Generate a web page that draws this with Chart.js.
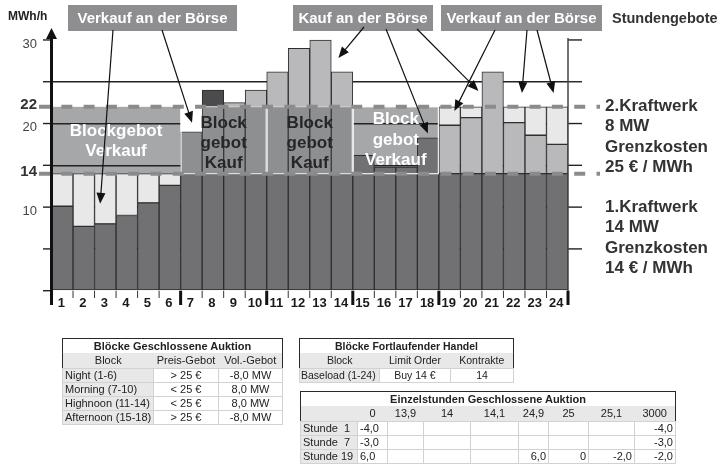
<!DOCTYPE html>
<html><head><meta charset="utf-8">
<script src="https://cdn.jsdelivr.net/npm/chart.js@4.4.1/dist/chart.umd.min.js"></script>
<style>
html,body{margin:0;padding:0;background:#fff;}
#wrap{position:relative;width:720px;height:465px;overflow:hidden;font-family:"Liberation Sans",Arial,sans-serif;}
canvas{position:absolute;left:0;top:0;}
table{position:absolute;border-collapse:collapse;table-layout:fixed;font-size:11px;color:#222;border:1.5px solid #2a2a2a;font-family:"Liberation Sans",Arial,sans-serif;}
td{padding:0 2px;height:13px;line-height:13px;white-space:pre;overflow:visible;border:1px solid #d2d2d2;background:#fff;}
tr.t td{font-weight:bold;text-align:center;border:none;height:14px;}
tr.h td{background:#e8e8e8;text-align:center;border:none;height:15px;}
td.l{background:#e8e8e8;text-align:left;}
td.c{text-align:center;}
td.r{text-align:right;}
td.ll{text-align:left;}
table.small{font-size:10.5px;}
table.small td{padding:0 1px;}
</style></head>
<body><div id="wrap"><canvas id="c" width="720" height="465"></canvas></div>
<script>
// ---------- data ----------
const hours = ['1','2','3','4','5','6','7','8','9','10','11','12','13','14','15','16','17','18','19','20','21','22','23','24'];
// dark base (Kraftwerk 1 / Last up to 14)
const grundlast = [10.1,7.7,8.0,9.0,10.5,12.6, 14,14,14,14, 14,14,14,14, 16.2,14.8,14.8,18.3, 14,14,14,14,14,14];
// block purchase 14..22
const blockKauf = [null,null,null,null,null,null, 5,8,8,8, 8,8,8,8, null,null,null,null, null,null,null,null,null,null];
// dark top in hour 8
const kaufSpitze = [null,null,null,null,null,null, null,2,null,null, null,null,null,null, null,null,null,null, null,null,null,null,null,null];
// hourly purchase (mid grey)
const stundenKauf = [null,null,null,null,null,null, null,null,0.5,2, 4.2,7.0,8.0,4.2, null,null,null,null, 5.8,6.7,12.2,6.1,4.6,3.5];
// hourly sale (light grey)
const stundenVerkauf = [3.9,6.3,6.0,5.0,3.5,1.4, 3.0,null,null,null, null,null,null,null, null,null,null,null, 2.2,1.3,null,1.9,3.4,4.5];

const yTickLabels = [10,20,30];
const kraftwerkLevels = [14,22];
const blockBoxes = [ // [firstHour, lastHour, from, to, type, lines]
  [1,6,14,22,'verkauf',['Blockgebot','Verkauf']],
  [7,10,14,22,'kauf',['Block','gebot','Kauf']],
  [11,14,14,22,'kauf',['Block','gebot','Kauf']],
  [15,18,14,22,'verkauf',['Block','gebot','Verkauf']]
];
const topBoxes = [[68,'Verkauf an der Börse',169],[293,'Kauf an der Börse',140],[441,'Verkauf an der Börse',161]];
// arrows: start px (x,y), tip in (bar position from left edge, value)
const arrows = [
  [113,30,2.26,10.4],[162,30,6.53,20.1],
  [364,27,13.33,27.85],[386,29,17.49,18.8],[417,29,19.84,23.9],
  [495,30,18.72,21.5],[527,30,21.86,23.65],[537,30,23.33,23.65]
];
const rightText1 = ['2.Kraftwerk','8 MW','Grenzkosten','25 € / MWh'];
const rightText2 = ['1.Kraftwerk','14 MW','Grenzkosten','14 € / MWh'];

// tables
const t1Titel = 'Blöcke Geschlossene Auktion';
const t1Kopf = ['Block','Preis-Gebot','Vol.-Gebot'];
const t1Zeilen = [['Night (1-6)','> 25 €','-8,0 MW'],['Morning (7-10)','< 25 €','8,0 MW'],['Highnoon (11-14)','< 25 €','8,0 MW'],['Afternoon (15-18)','> 25 €','-8,0 MW']];
const t2Titel = 'Blöcke Fortlaufender Handel';
const t2Kopf = ['Block','Limit Order','Kontrakte'];
const t2Zeilen = [['Baseload (1-24)','Buy 14 €','14']];
const t3Titel = 'Einzelstunden Geschlossene Auktion';
const t3Kopf = ['','0','13,9','14','14,1','24,9','25','25,1','3000'];
const t3Zeilen = [
  ['Stunde  1','-4,0','','','','','','','-4,0'],
  ['Stunde  7','-3,0','','','','','','','-3,0'],
  ['Stunde 19','6,0','','','','6,0','0','-2,0','-2,0']
];

// ---------- tables ----------
function esc(s){return s.replace(/&/g,'&amp;').replace(/</g,'&lt;').replace(/>/g,'&gt;');}
function makeTable(left,top,widths,titel,kopf,zeilen,aligns,cls){
  const t=document.createElement('table');
  if(cls) t.className=cls;
  t.style.left=left+'px';t.style.top=top+'px';
  t.style.width=widths.reduce((a,b)=>a+b,0)+'px';
  let h='<colgroup>'+widths.map(w=>'<col style="width:'+w+'px">').join('')+'</colgroup>';
  h+='<tr class="t"><td colspan="'+widths.length+'">'+esc(titel)+'</td></tr>';
  h+='<tr class="h">'+kopf.map(k=>'<td>'+esc(k)+'</td>').join('')+'</tr>';
  zeilen.forEach(z=>{h+='<tr>'+z.map((v,i)=>'<td class="'+(i===0?'l':aligns[i])+'">'+esc(v)+'</td>').join('')+'</tr>';});
  t.innerHTML=h;
  document.getElementById('wrap').appendChild(t);
}
makeTable(62,338,[91,65,64],t1Titel,t1Kopf,t1Zeilen,['l','c','c']);
makeTable(299,338,[80,71,63],t2Titel,t2Kopf,t2Zeilen,['l','c','c'],'small');
makeTable(300,391,[57,30,36,47,48,30,40,46,41],t3Titel,t3Kopf,t3Zeilen,['l','ll','r','r','r','r','r','r','r']);

// ---------- chart ----------
const FONT = '"Liberation Sans", Arial, sans-serif';
function geom(chart){
  const xs=chart.scales.x, ys=chart.scales.y;
  const w = xs.getPixelForValue(1)-xs.getPixelForValue(0);
  const left = xs.getPixelForValue(0)-w/2;
  return {xs,ys,w,left};
}
function arrow(ctx,x1,y1,x2,y2){
  const a=Math.atan2(y2-y1,x2-x1), L=11, H=4.5;
  ctx.beginPath();ctx.moveTo(x1,y1);ctx.lineTo(x2-Math.cos(a)*L*0.8,y2-Math.sin(a)*L*0.8);ctx.stroke();
  ctx.beginPath();ctx.moveTo(x2,y2);
  ctx.lineTo(x2-Math.cos(a)*L+Math.sin(a)*H, y2-Math.sin(a)*L-Math.cos(a)*H);
  ctx.lineTo(x2-Math.cos(a)*L-Math.sin(a)*H, y2-Math.sin(a)*L+Math.cos(a)*H);
  ctx.closePath();ctx.fill();
}
const deco = {
  id:'deco',
  beforeDraw(chart){
    const ctx=chart.ctx; const g=geom(chart);
    ctx.save();
    blockBoxes.forEach(b=>{
      if(b[4]!=='verkauf') return;
      const x1=g.left+(b[0]-1)*g.w, x2=g.left+b[1]*g.w;
      const y1=g.ys.getPixelForValue(b[3]), y2=g.ys.getPixelForValue(b[2]);
      ctx.fillStyle='#a6a7a9';ctx.fillRect(x1,y1,x2-x1,y2-y1);
    });
    ctx.restore();
  },
  afterDatasetsDraw(chart){
    const ctx=chart.ctx; const g=geom(chart);
    ctx.save();
    blockBoxes.forEach(b=>{
      const x1=g.left+(b[0]-1)*g.w, x2=g.left+b[1]*g.w;
      const y1=g.ys.getPixelForValue(b[3]), y2=g.ys.getPixelForValue(b[2]);
      ctx.strokeStyle='rgba(255,255,255,0.9)';ctx.lineWidth=1.2;
      if(b[0]!==1) ctx.strokeRect(x1+0.5,y1,x2-x1-1,y2-y1);
      const cx=(x1+x2)/2;
      ctx.font='bold 17px '+FONT;ctx.textAlign='center';ctx.textBaseline='middle';
      ctx.fillStyle=b[4]==='kauf'?'#262626':'#ffffff';
      let ys;
      if(b[5].length===2) ys=[131,151];
      else if(b[4]==='kauf') ys=[123,143,163];
      else ys=[119,140,160];
      b[5].forEach((t,i)=>ctx.fillText(t,cx,ys[i]));
    });
    ctx.restore();
  },
  afterDraw(chart){
    const ctx=chart.ctx; const g=geom(chart); const ys=g.ys, xs=g.xs;
    const L=g.left, R=g.left+24*g.w, B=ys.getPixelForValue(0);
    ctx.save();
    // dashed Kraftwerk lines
    ctx.strokeStyle='#8b8b8d';ctx.lineWidth=4;ctx.setLineDash([11,11.3]);
    kraftwerkLevels.forEach(v=>{const y=ys.getPixelForValue(v);ctx.beginPath();ctx.moveTo(39,y);ctx.lineTo(600,y);ctx.stroke();});
    ctx.setLineDash([]);
    // tick marks outside plot (left / right)
    ctx.strokeStyle='#222';ctx.lineWidth=1.4;
    for(let v=0;v<=30;v+=5){
      const y=ys.getPixelForValue(v);
      ctx.beginPath();ctx.moveTo(43,y);ctx.lineTo(L,y);ctx.stroke();
      if(v>0){ctx.beginPath();ctx.moveTo(R,y);ctx.lineTo(582,y);ctx.stroke();}
    }
    // right border line
    ctx.lineWidth=1.5;ctx.strokeStyle='#444';
    ctx.beginPath();ctx.moveTo(R,ys.getPixelForValue(30)-2);ctx.lineTo(R,B);ctx.stroke();
    // y axis with arrow
    ctx.strokeStyle='#111';ctx.fillStyle='#111';ctx.lineWidth=3;
    ctx.beginPath();ctx.moveTo(L,B+1);ctx.lineTo(L,36);ctx.stroke();
    ctx.beginPath();ctx.moveTo(L,28);ctx.lineTo(L-5.5,39);ctx.lineTo(L+5.5,39);ctx.closePath();ctx.fill();
    // x boundary ticks
    for(let i=0;i<=24;i++){
      const x=L+i*g.w; const thick=[0,6,10,14,18,24].includes(i);
      ctx.lineWidth=thick?3:1;ctx.strokeStyle=thick?'#111':'#333';
      ctx.beginPath();ctx.moveTo(x,B);ctx.lineTo(x,thick?305:298);ctx.stroke();
    }
    // x labels
    ctx.font='bold 13px '+FONT;ctx.fillStyle='#1a1a1a';ctx.textAlign='center';ctx.textBaseline='middle';
    hours.forEach((h,i)=>ctx.fillText(h,xs.getPixelForValue(i)-1,303));
    // y labels
    ctx.font='13px '+FONT;ctx.fillStyle='#444';ctx.textAlign='right';
    yTickLabels.forEach(v=>ctx.fillText(String(v),37,ys.getPixelForValue(v)+4));
    ctx.font='bold 15px '+FONT;ctx.fillStyle='#333';
    kraftwerkLevels.forEach(v=>ctx.fillText(String(v),37,ys.getPixelForValue(v)-2));
    ctx.font='bold 12px '+FONT;ctx.fillStyle='#222';ctx.textAlign='left';
    ctx.fillText('MWh/h',8,17);
    // top annotation boxes
    topBoxes.forEach(b=>{
      ctx.fillStyle='#8e8e90';ctx.fillRect(b[0],5,b[2],26);
      ctx.fillStyle='#fff';ctx.font='bold 15px '+FONT;ctx.textAlign='center';
      ctx.fillText(b[1],b[0]+b[2]/2,18.5);
    });
    ctx.fillStyle='#333';ctx.font='bold 14.5px '+FONT;ctx.textAlign='left';
    ctx.fillText('Stundengebote',612,18.5);
    // right texts
    ctx.font='bold 17px '+FONT;ctx.fillStyle='#333';
    rightText1.forEach((t,i)=>ctx.fillText(t,605,106+i*20.5));
    rightText2.forEach((t,i)=>ctx.fillText(t,605,207+i*20.5));
    // arrows
    ctx.strokeStyle='#111';ctx.fillStyle='#111';ctx.lineWidth=1.2;
    arrows.forEach(a=>arrow(ctx,a[0],a[1],L+a[2]*g.w,ys.getPixelForValue(a[3])));
    ctx.restore();
  }
};

const bc='#2e2e2e';
new Chart(document.getElementById('c'),{
  type:'bar',
  data:{labels:hours,datasets:[
    {label:'Grundlast',data:grundlast,backgroundColor:'#717173',borderColor:bc},
    {label:'Blockkauf',data:blockKauf,backgroundColor:'#8e8f91',borderColor:'#3a3a3a'},
    {label:'Kauf Spitze',data:kaufSpitze,backgroundColor:'#4b4b4d',borderColor:bc},
    {label:'Stundenkauf',data:stundenKauf,backgroundColor:'#b9b9bb',borderColor:bc},
    {label:'Stundenverkauf',data:stundenVerkauf,
      backgroundColor:stundenVerkauf.map((v,i)=>i===6?'#ffffff':'#e8e8e8'),
      borderColor:stundenVerkauf.map((v,i)=>i===6?'#ffffff':bc)}
  ]},
  options:{
    responsive:false,animation:false,devicePixelRatio:1,
    layout:{padding:{left:51.5,right:152,top:31.6,bottom:174.3}},
    plugins:{legend:{display:false},tooltip:{enabled:false}},
    datasets:{bar:{categoryPercentage:1,barPercentage:1,borderWidth:1,borderSkipped:false}},
    scales:{
      x:{stacked:true,grid:{display:false,drawTicks:false},ticks:{display:false},border:{display:false}},
      y:{stacked:true,min:0,max:31,ticks:{display:false,stepSize:5},border:{display:false},
         grid:{drawTicks:false,lineWidth:1.4,color:c=>(c.tick && c.tick.value>0 && c.tick.value%5===0)?'#222':'rgba(0,0,0,0)'}}
    }
  },
  plugins:[deco]
});
</script>
</body></html>
